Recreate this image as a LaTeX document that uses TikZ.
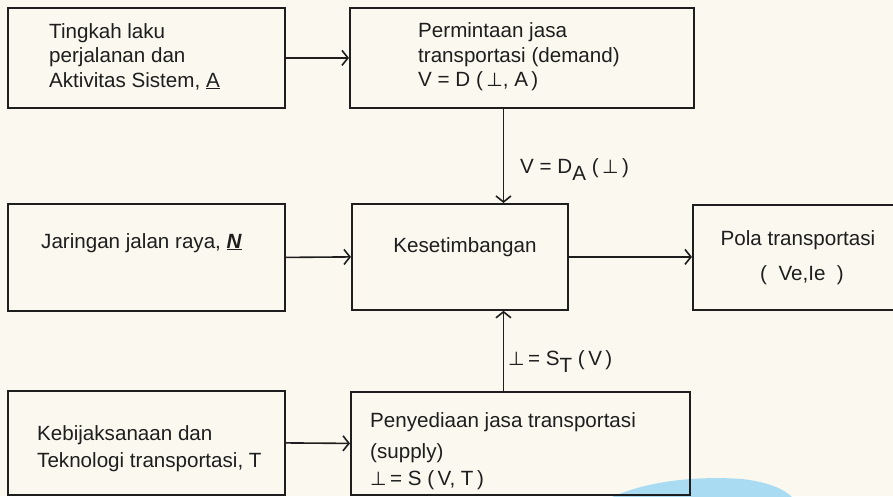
\documentclass[tikz,border=0pt]{standalone}
\usepackage{fontspec}
\setmainfont{Liberation Sans}
\newfontfamily\symfam{DejaVu Sans}
\usetikzlibrary{arrows.meta,calc}
\definecolor{paper}{HTML}{FAF8EF}
\definecolor{ink}{HTML}{1E1E1E}
\definecolor{blob}{HTML}{A9DBF2}
% link-volume symbol
\newcommand{\lnk}{{\symfam\fontsize{19}{19}\selectfont ⊥}}
\begin{document}
\begin{tikzpicture}[x=1pt,y=-1pt,
  box/.style={draw=ink,line width=1.8pt,anchor=north west,inner sep=0pt,rectangle},
  txt/.style={anchor=base west,inner sep=0pt,text=ink,font=\fontsize{20.6}{24}\selectfont},
  arr/.style={draw=ink,line width=1.6pt,-{Straight Barb[length=6pt,width=15pt]}}]
  \fill[paper] (0,0) rectangle (893,496);
  \useasboundingbox (0,0) rectangle (893,496);
  \clip (0,0) rectangle (893,496);
  % stray blue mark near the lower edge
  \fill[blob] (612,497) .. controls (650,480) and (700,476) .. (742,479)
     .. controls (768,482) and (784,489) .. (792,497) -- cycle;

  % boxes
  \node[box,minimum width=277pt,minimum height=100pt] (act) at (7,7) {};
  \node[box,minimum width=344pt,minimum height=100pt] (dem) at (349,7) {};
  \node[box,minimum width=277pt,minimum height=107pt] (net) at (7,203) {};
  \node[box,minimum width=216pt,minimum height=106pt] (eq) at (351,203) {};
  \node[box,minimum width=215pt,minimum height=105pt] (pat) at (692,204) {};
  \node[box,minimum width=277pt,minimum height=104pt] (pol) at (7,390) {};
  \node[box,minimum width=339pt,minimum height=103pt] (sup) at (350,391) {};

  % texts
  \node[txt] (a1) at (49,38) {Tingkah laku};
  \node[txt] (a2) at (49,62) {perjalanan dan};
  \node[txt] (a3) at (49,87) {Aktivitas Sistem, \underline{A}};
  \node[txt] (d1) at (418,37) {Permintaan jasa};
  \node[txt] (d2) at (418,62) {transportasi (demand)};
  \node[txt] (d3) at (418,86) {V = D (\,\lnk, A\,)};
  \node[txt] (n1) at (41,248) {Jaringan jalan raya, \underline{\textbf{\textit{N}}}};
  \node[txt,anchor=base] (e1) at (465,252) {Kesetimbangan};
  \node[txt,anchor=base] (p1) at (798,245) {Pola transportasi};
  \node[txt,anchor=base] (p2) at (802,280) {(\ \ Ve,Ie\ \ )};
  \node[txt] (k1) at (37,440) {Kebijaksanaan dan};
  \node[txt] (k2) at (37,467) {Teknologi transportasi, T};
  \node[txt] (s1) at (370,427) {Penyediaan jasa transportasi};
  \node[txt] (s2) at (370,458) {(supply)};
  \node[txt] (s3) at (370,485) {\lnk\,= S (\,V, T\,)};

  % connector labels
  \node[txt] (ld) at (520,173) {V = D\raisebox{-7pt}{A} (\,\lnk\,)};
  \node[txt] (ls) at (508,365) {\lnk\,= S\raisebox{-7pt}{T} (\,V\,)};

  % connectors
  \draw[arr] (act.east) -- (dem.west);
  \draw[arr] (net.east) -- (eq.west);
  \draw[arr] (eq.east) -- (eq.east -| pat.west);
  \draw[arr] (pol.east) -- (sup.west);
  \coordinate (eqin) at ($(eq.north west)!0.70!(eq.north east)$);
  \coordinate (eqout) at ($(eq.south west)!0.70!(eq.south east)$);
  \draw[arr] (eqin |- dem.south) -- (eqin);
  \draw[arr] (eqout |- sup.north) -- (eqout);
\end{tikzpicture}
\end{document}
